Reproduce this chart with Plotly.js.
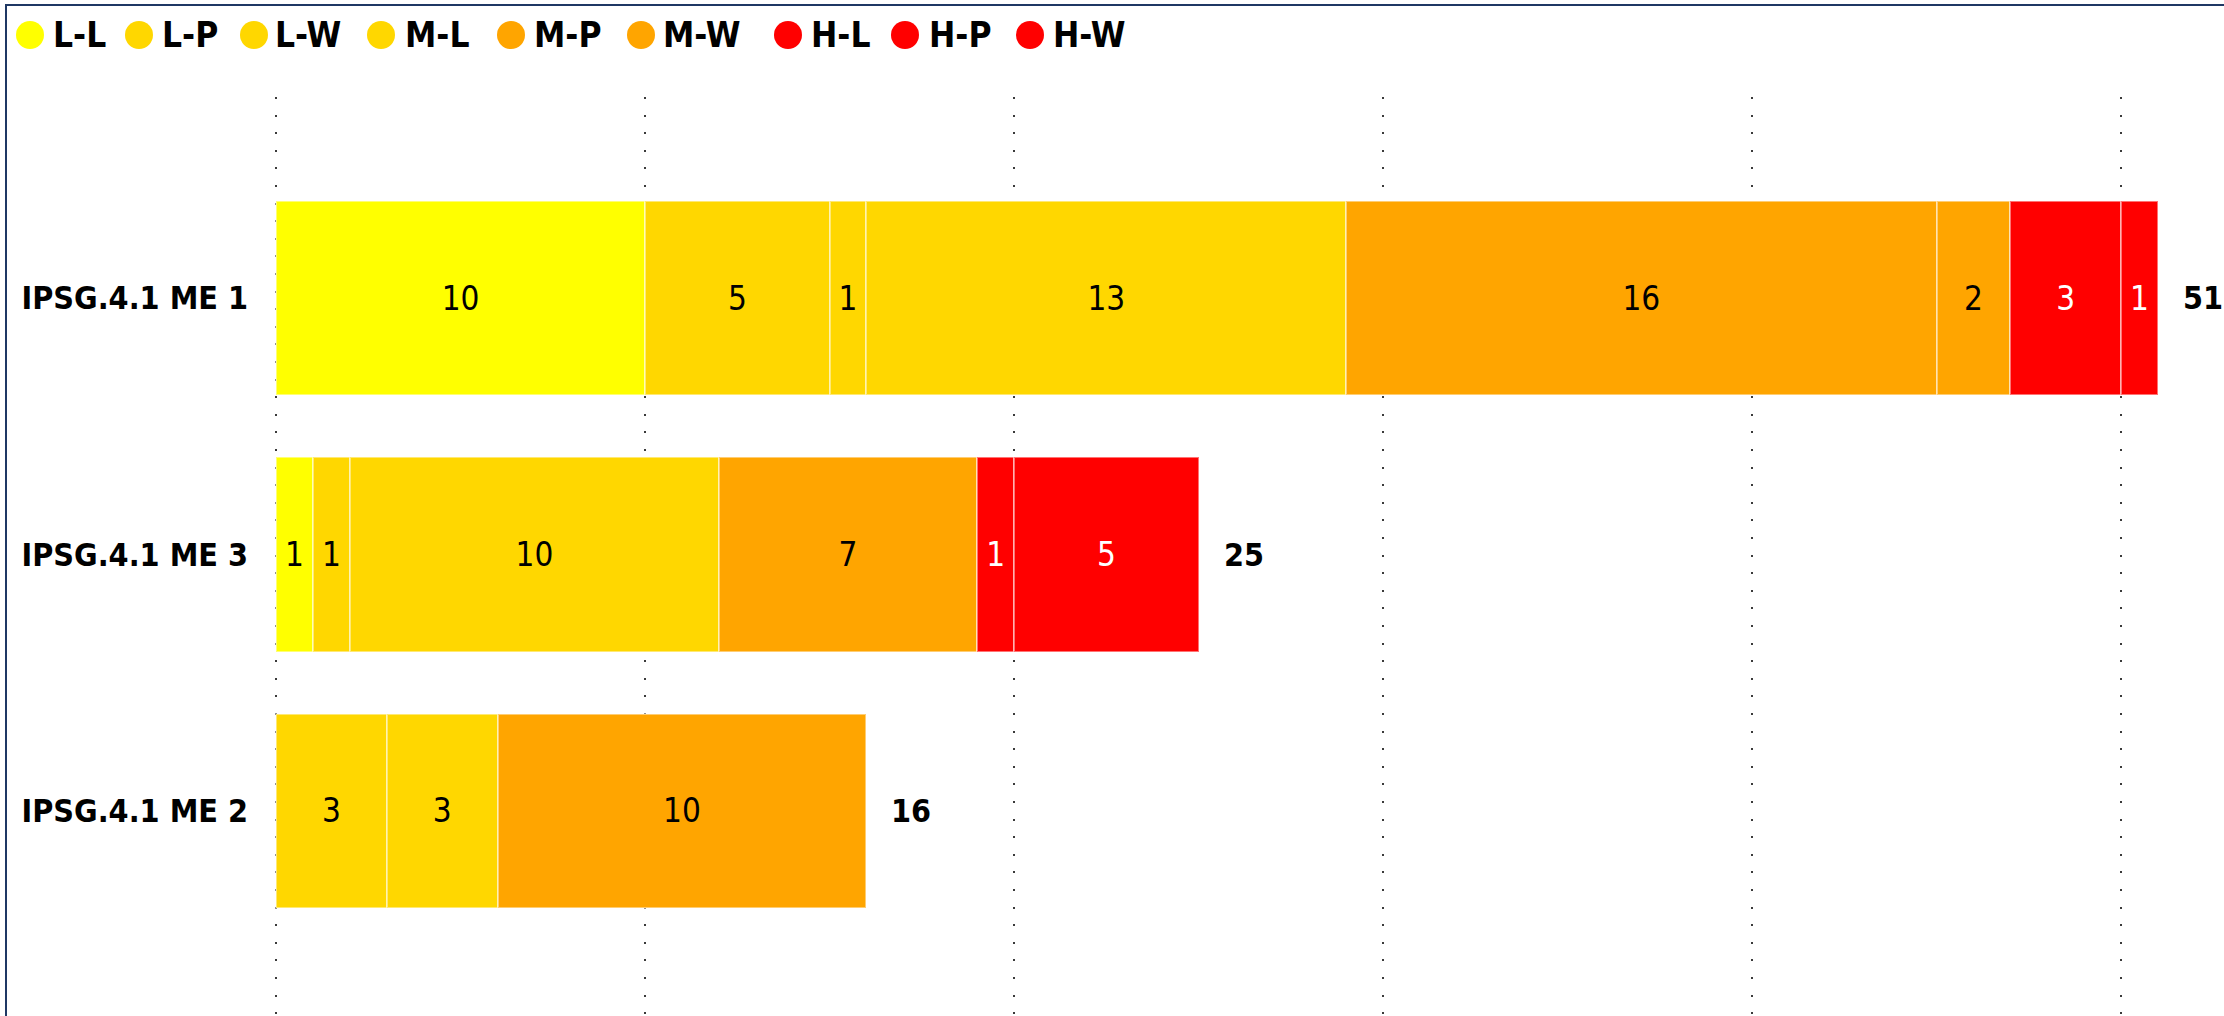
<!DOCTYPE html>
<html><head><meta charset="utf-8">
<script src="https://cdn.plot.ly/plotly-3.0.1.min.js"></script>
<style>
html,body{margin:0;padding:0;background:#fff;overflow:hidden}
#chart{width:2224px;height:1016px;position:absolute;left:0;top:0}
#frame{position:absolute;left:5px;top:4px;width:2400px;height:1200px;border-left:2px solid #1F3864;border-top:2px solid #1F3864;pointer-events:none}
</style></head><body>
<div id="chart"></div><div id="frame"></div>
<script>
// ---- data ----
const categories = ['IPSG.4.1 ME 1', 'IPSG.4.1 ME 3', 'IPSG.4.1 ME 2'];
const seriesNames = ['L-L', 'L-P', 'L-W', 'M-L', 'M-P', 'M-W', 'H-L', 'H-P', 'H-W'];
const LL = [10, 1, 0];
const LP = [5, 1, 3];
const LW = [1, 10, 3];
const ML = [13, 0, 0];
const MP = [16, 7, 10];
const MW = [2, 0, 0];
const HL = [3, 1, 0];
const HP = [1, 5, 0];
const HW = [0, 0, 0];
const seriesValues = [LL, LP, LW, ML, MP, MW, HL, HP, HW];

// ---- styles ----
const seriesColors = ['#FFFF00', '#FFD700', '#FFD700', '#FFD700', '#FFA500', '#FFA500', '#FF0000', '#FF0000', '#FF0000'];
const textColors = ['#000000', '#000000', '#000000', '#000000', '#000000', '#000000', '#FFFFFF', '#FFFFFF', '#FFFFFF'];
const FONT = "'DejaVu Sans Condensed', 'DejaVu Sans', sans-serif";
const W = 2224, H = 1016;
const M = {l: 275, r: 0, t: 97, b: 0};
const plotW = W - M.l - M.r, plotH = H - M.t - M.b;
const legendCircleX = [16, 125, 240, 367, 497, 627, 774, 891, 1016];
const legendTextX = [52, 161, 274, 404, 533, 662, 810, 928, 1052];
const legendY = 35;

const totals = categories.map((c, i) => seriesValues.reduce((s, arr) => s + arr[i], 0));

const traces = seriesNames.map((name, k) => ({
  type: 'bar',
  orientation: 'h',
  name: name,
  y: categories,
  x: seriesValues[k].map(v => v === 0 ? null : v),
  text: seriesValues[k].map(v => v === 0 ? '' : String(v)),
  texttemplate: '%{text}',
  textposition: 'inside',
  insidetextanchor: 'middle',
  textangle: 0,
  insidetextfont: {family: FONT, size: 33, color: textColors[k]},
  marker: {color: seriesColors[k], line: {color: 'rgba(255,255,255,0.45)', width: 2}},
  hoverinfo: 'skip',
  showlegend: false
}));

const pxToPaperX = px => (px - M.l) / plotW;
const pxToPaperY = py => (H - M.b - py) / plotH;

const annotations = [];
categories.forEach((c, i) => {
  annotations.push({
    x: totals[i], y: c, xref: 'x', yref: 'y',
    text: String(totals[i]), showarrow: false,
    xanchor: 'left', yanchor: 'middle', xshift: 23,
    font: {family: FONT, size: 32, color: '#000', weight: 'bold'}
  });
});
seriesNames.forEach((name, k) => {
  annotations.push({
    x: pxToPaperX(legendTextX[k]), y: pxToPaperY(legendY), xref: 'paper', yref: 'paper',
    text: name, showarrow: false, xanchor: 'left', yanchor: 'middle', borderpad: 0,
    font: {family: FONT, size: 35, color: '#000', weight: 'bold'}
  });
});
const shapes = seriesNames.map((name, k) => ({
  type: 'circle', xref: 'paper', yref: 'paper',
  xsizemode: 'pixel', ysizemode: 'pixel',
  xanchor: pxToPaperX(legendCircleX[k] + 14), yanchor: pxToPaperY(legendY),
  x0: -14, x1: 14, y0: -14, y1: 14,
  fillcolor: seriesColors[k], line: {width: 0}
}));

const layout = {
  width: W, height: H,
  margin: {l: M.l, r: M.r, t: M.t, b: M.b, pad: 0},
  paper_bgcolor: '#FFFFFF', plot_bgcolor: '#FFFFFF',
  barmode: 'stack', bargap: 0.242,
  showlegend: false,
  font: {family: FONT, color: '#000'},
  xaxis: {
    range: [-0.03, 52.79], tick0: 0, dtick: 10,
    showgrid: true, gridcolor: '#3a3a3a', gridwidth: 1.5, griddash: '2px,15.6px',
    zeroline: false, showline: false, showticklabels: false, ticks: ''
  },
  yaxis: {
    type: 'category', categoryorder: 'array', categoryarray: categories,
    range: [2.8, -0.785],
    showgrid: false, zeroline: false, showline: false, ticks: '',
    ticklabelstandoff: 26,
    tickfont: {family: FONT, size: 32, color: '#000', weight: 'bold'}
  },
  annotations: annotations,
  shapes: shapes
};

Plotly.newPlot('chart', traces, layout, {staticPlot: true, displayModeBar: false});
</script>
</body></html>
